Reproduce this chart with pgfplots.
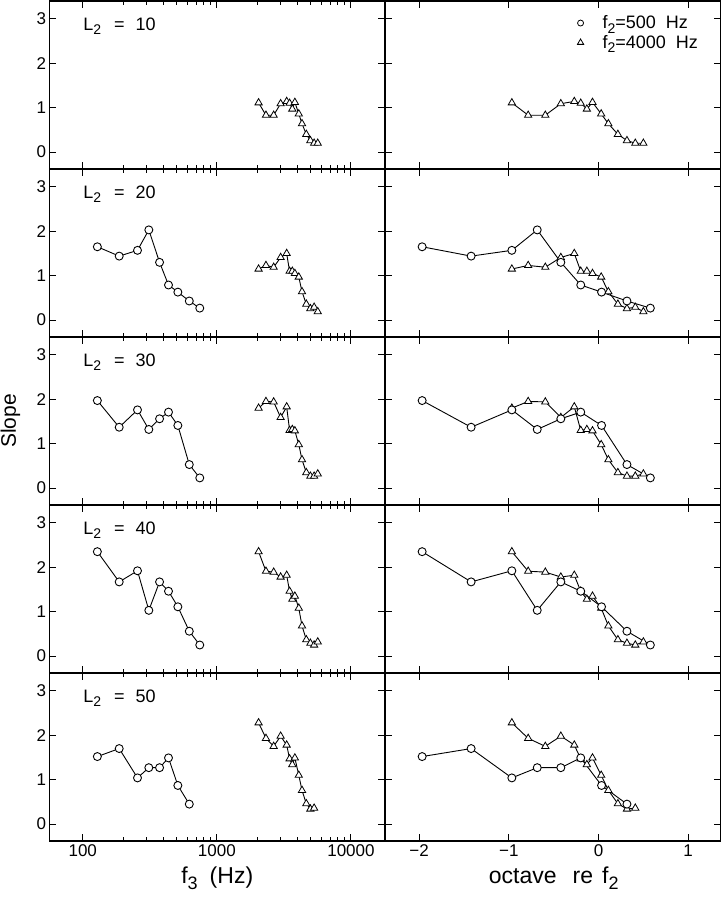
\documentclass[border=0pt]{standalone}
\usepackage{fontspec}
\setmainfont{Liberation Sans}
\usepackage{pgfplots}
\pgfplotsset{compat=1.18}
\usepackage{pgfplotstable}

\newcommand\fs{\fontsize{18bp}{21bp}\selectfont}
\newcommand\ft{\fontsize{17bp}{20bp}\selectfont}
\newcommand\fl{\fontsize{23bp}{26bp}\selectfont}
\newcommand\sub[1]{\raisebox{-4.5bp}{\fontsize{14bp}{14bp}\selectfont #1}}
\newcommand\subl[1]{\raisebox{-6bp}{\fontsize{18bp}{18bp}\selectfont #1}}

\pgfplotstableread{
oct f3 s20 s30 s40 s50
-1.966 128.5 1.65 1.97 2.35 1.52
-1.42 187 1.44 1.37 1.67 1.70
-0.966 256 1.57 1.76 1.92 1.04
-0.683 311 2.03 1.32 1.03 1.27
-0.42 374 1.30 1.56 1.67 1.27
-0.198 436 0.79 1.71 1.46 1.49
0.034 512 0.63 1.41 1.11 0.87
0.317 623 0.43 0.53 0.56 0.45
0.578 746 0.27 0.23 0.25 nan
}\tabC

\pgfplotstableread{
oct f3 s10 s20 s30 s40 s50
-0.966 2048 1.11 1.15 1.80 2.35 2.28
-0.784 2324 0.83 1.23 1.95 1.91 1.93
-0.593 2653 0.83 1.19 1.94 1.89 1.75
-0.42 2990 1.09 1.41 1.59 1.78 1.98
-0.27 3317 1.14 1.50 1.83 1.82 1.78
-0.198 3487 1.10 1.10 1.30 1.46 1.47
-0.13 3655 0.97 1.10 1.32 1.28 1.34
-0.067 3818 1.12 1.05 1.29 1.35 1.49
0.03 4084 0.86 0.97 0.98 1.08 1.10
0.11 4317 0.64 0.64 0.64 0.68 0.76
0.216 4646 0.40 0.36 0.35 0.37 0.46
0.317 4983 0.26 0.26 0.27 0.29 0.34
0.41 5315 0.20 0.29 0.27 0.25 0.36
0.5 5657 0.20 0.19 0.32 0.32 nan
}\tabT

\pgfplotsset{
 panel/.style={scale only axis, width=335.5bp, height=168bp, anchor=north west,
   ymin=-0.38, ymax=3.40, ytick={0,1,2,3},
   tick align=inside, xtick pos=both, ytick pos=both,
   major tick length=7bp, minor tick length=4bp,
   axis line style={line width=1.6bp},
   every tick/.append style={black, line width=1.1bp},
   tick label style={font=\ft},
   /pgf/number format/assume math mode=true,
   xticklabels={},
 },
 leftp/.style={panel, xmin=56.5, xmax=17950, xtick={100,1000,10000},
   minor xtick={200,300,400,500,600,700,800,900,2000,3000,4000,5000,6000,7000,8000,9000},
   yticklabels={0,1,2,3}},
 rightp/.style={panel, xmin=-2.38, xmax=1.36, xtick={-2,-1,0,1}, yticklabels={}},
 circ/.style={black, line width=0.9bp, mark=*, mark size=4.0bp, mark options={fill=white, line width=0.9bp}},
 tri/.style={black, line width=0.9bp, mark=triangle*, mark size=4.2bp, mark options={fill=white, line width=0.8bp}},
}
\tikzset{lab/.style={anchor=base west, inner sep=0pt, font=\fs}}

\begin{document}
\begin{tikzpicture}
\useasboundingbox (0,0) rectangle (722bp,-898bp);

% Row 1
\begin{semilogxaxis}[leftp, at={(49.5bp,-1bp)}]
\addplot[tri] table[x=f3, y=s10] {\tabT};
\node[lab] at (rel axis cs:0.1,0.827) {L\sub{2}\hspace{13bp}=\hspace{11bp}10};
\end{semilogxaxis}
\begin{axis}[rightp, at={(385bp,-1bp)},
  legend style={at={(0.573,0.925)}, anchor=north west, draw=none, fill=none,
    font=\fs, inner sep=0pt, row sep=1bp, column sep=17bp, cells={anchor=west, inner sep=1bp}},
  legend cell align=left]
\addlegendimage{only marks, mark=o, mark size=3.0bp, black, line width=0.8bp}
\addlegendentry{f\sub{2}=500\hspace{10bp}Hz}
\addlegendimage{only marks, mark=triangle, mark size=3.6bp, black, line width=0.8bp}
\addlegendentry{f\sub{2}=4000\hspace{10bp}Hz}
\addplot[tri, forget plot] table[x=oct, y=s10] {\tabT};
\end{axis}

% Row 2
\begin{semilogxaxis}[leftp, at={(49.5bp,-169bp)}]
\addplot[circ] table[x=f3, y=s20] {\tabC};
\addplot[tri] table[x=f3, y=s20] {\tabT};
\node[lab] at (rel axis cs:0.1,0.827) {L\sub{2}\hspace{13bp}=\hspace{11bp}20};
\end{semilogxaxis}
\begin{axis}[rightp, at={(385bp,-169bp)}]
\addplot[tri] table[x=oct, y=s20] {\tabT};
\addplot[circ] table[x=oct, y=s20] {\tabC};
\end{axis}

% Row 3
\begin{semilogxaxis}[leftp, at={(49.5bp,-337bp)}]
\addplot[circ] table[x=f3, y=s30] {\tabC};
\addplot[tri] table[x=f3, y=s30] {\tabT};
\node[lab] at (rel axis cs:0.1,0.827) {L\sub{2}\hspace{13bp}=\hspace{11bp}30};
\end{semilogxaxis}
\begin{axis}[rightp, at={(385bp,-337bp)}]
\addplot[tri] table[x=oct, y=s30] {\tabT};
\addplot[circ] table[x=oct, y=s30] {\tabC};
\end{axis}

% Row 4
\begin{semilogxaxis}[leftp, at={(49.5bp,-505bp)}]
\addplot[circ] table[x=f3, y=s40] {\tabC};
\addplot[tri] table[x=f3, y=s40] {\tabT};
\node[lab] at (rel axis cs:0.1,0.827) {L\sub{2}\hspace{13bp}=\hspace{11bp}40};
\end{semilogxaxis}
\begin{axis}[rightp, at={(385bp,-505bp)}]
\addplot[tri] table[x=oct, y=s40] {\tabT};
\addplot[circ] table[x=oct, y=s40] {\tabC};
\end{axis}

% Row 5
\begin{semilogxaxis}[leftp, at={(49.5bp,-673bp)}, xticklabels={100,1000,10000},
  xlabel={f\subl{3}\hspace{12bp}(Hz)}, xlabel style={font=\fl, yshift=-3bp}]
\addplot[circ] table[x=f3, y=s50] {\tabC};
\addplot[tri] table[x=f3, y=s50] {\tabT};
\node[lab] at (rel axis cs:0.1,0.827) {L\sub{2}\hspace{13bp}=\hspace{11bp}50};
\end{semilogxaxis}
\begin{axis}[rightp, at={(385bp,-673bp)}, xticklabels={−2,−1,0,1},
  xlabel={octave\hspace{16bp}re\hspace{9bp}f\subl{2}}, xlabel style={font=\fl, xshift=1bp, yshift=-3bp}]
\addplot[tri] table[x=oct, y=s50] {\tabT};
\addplot[circ] table[x=oct, y=s50] {\tabC};
\end{axis}

\node[rotate=90, font=\fontsize{21bp}{24bp}\selectfont, inner sep=0pt] at (10.5bp,-421bp) {Slope};
\end{tikzpicture}
\end{document}
